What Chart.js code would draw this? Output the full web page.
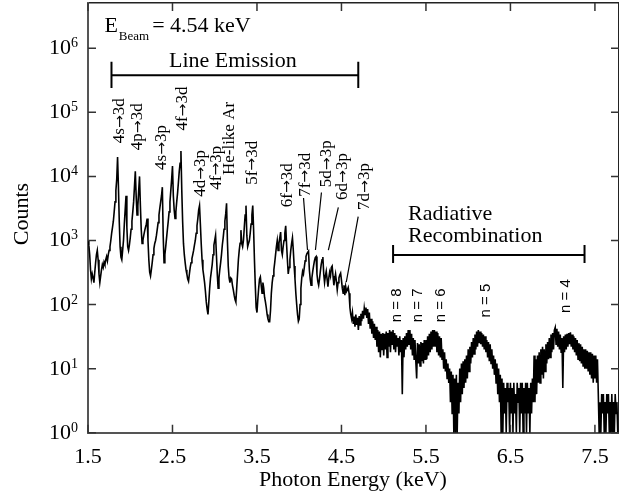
<!DOCTYPE html>
<html>
<head>
<meta charset="utf-8">
<script src="https://cdn.jsdelivr.net/npm/chart.js@4"></script>
<style>
html, body { margin: 0; padding: 0; background: #fff; }
#wrap { width: 619px; height: 500px; }
</style>
</head>
<body>
<div id="wrap"><canvas id="spectrum" width="619" height="500"></canvas></div>
<script>
// channels: 1.50 keV upward, 0.01 keV per channel
const energyStart = 1.5;
const energyStep = 0.01;

// line emission part, 1.50 - 4.59 keV (one row = 0.1 keV)
const countsLine = [
  1000, 850, 600, 350, 250, 300, 260, 220, 320, 450,
  600, 700, 500, 300, 220, 280, 350, 420, 380, 460,
  420, 500, 560, 480, 600, 700, 800, 1000, 1300, 1600,
  2000, 2800, 4000, 6000, 9000, 20000, 7000, 2000, 800, 550,
  500, 700, 1000, 1800, 3000, 5000, 1600, 800, 700, 850,
  1100, 1500, 2000, 2800, 4000, 7000, 12000, 5000, 2500, 3500,
  6000, 10000, 3500, 1500, 900, 1000, 1200, 1400, 1600, 1800,
  2200, 1000, 500, 320, 280, 350, 450, 600, 750, 900,
  1000, 1200, 1500, 1900, 2500, 3200, 4000, 5000, 6800, 1200,
  450, 600, 800, 1100, 1500, 2000, 2800, 4000, 6000, 9000,
  14500, 5000, 3000, 2200, 2800, 4000, 5500, 8000, 12000, 16000,
  25000, 6000, 2000, 900, 600, 450, 350, 300, 250, 230,
  300, 380, 450, 520, 600, 700, 850, 1000, 1300, 1700,
  2200, 3000, 3500, 1800, 900, 500, 350, 280, 220, 160,
  110, 85, 70, 110, 180, 260, 330, 420, 600, 850,
  1000, 1200, 600, 300, 180, 260, 350, 450, 600, 850,
  1100, 1500, 2000, 2600, 3800, 1000, 400, 260, 220, 260,
  250, 200, 170, 140, 120, 110, 180, 300, 500, 700,
  900, 1450, 900, 800, 1000, 1600, 2500, 3500, 1200, 800,
  900, 1000, 1300, 1800, 2500, 3500, 1500, 500, 200, 90,
  75, 120, 180, 250, 270, 200, 150, 220, 180, 130,
  110, 90, 70, 60, 54, 54, 80, 150, 220, 280,
  350, 450, 600, 800, 1000, 700, 900, 1100, 1350, 700,
  600, 800, 1000, 1300, 1700, 900, 500, 300, 380, 500,
  700, 900, 1100, 700, 400, 250, 150, 100, 70, 55,
  60, 100, 180, 260, 330, 300, 380, 480, 560, 620,
  650, 680, 350, 250, 200, 260, 330, 400, 480, 540,
  560, 300, 230, 200, 250, 330, 420, 500, 550, 300,
  220, 280, 330, 250, 190, 260, 320, 280, 380, 400,
  280, 200, 250, 300, 230, 170, 220, 260, 290, 310,
  240, 180, 150, 200, 140, 190, 160, 170, 185, 150
];

// radiative recombination part, 4.60 - 7.77 keV
const countsRR = [
  90, 70, 60, 75, 50, 65, 45, 70, 48, 62,
  40, 66, 48, 72, 55, 80, 60, 88, 70, 90,
  62, 85, 50, 75, 42, 60, 35, 55, 30, 50,
  28, 45, 22, 40, 18, 38, 15, 35, 20, 36,
  16, 35, 20, 38, 15, 36, 22, 40, 18, 38,
  24, 40, 20, 36, 18, 33, 22, 30, 16, 32,
  18, 28, 4, 30, 15, 32, 20, 36, 22, 40,
  24, 40, 20, 35, 16, 30, 14, 28, 13, 7,
  25, 12, 24, 11, 26, 13, 25, 12, 28, 14,
  28, 14, 32, 16, 35, 18, 38, 20, 40, 22,
  40, 22, 38, 18, 36, 16, 32, 15, 30, 14,
  20, 10, 18, 9, 14, 7, 12, 6, 10, 3,
  9, 2, 8, 1, 7, 1, 8, 1, 6, 2,
  10, 3, 12, 4, 13, 5, 14, 6, 16, 7,
  20, 9, 22, 12, 26, 15, 30, 17, 34, 20,
  38, 22, 40, 25, 38, 24, 36, 22, 34, 20,
  32, 18, 28, 15, 26, 13, 24, 12, 20, 10,
  16, 8, 14, 6, 12, 4, 10, 3, 8, 1,
  7, 1, 6, 2, 5, 1, 6, 3, 5, 1,
  6, 2, 5, 1, 6, 2, 4, 1, 6, 3,
  5, 1, 6, 2, 6, 1, 5, 2, 6, 1,
  6, 2, 5, 1, 6, 2, 7, 3, 16, 3,
  14, 4, 16, 6, 18, 6, 20, 8, 22, 7,
  20, 9, 24, 12, 26, 14, 30, 15, 34, 18,
  36, 20, 40, 44, 24, 42, 22, 38, 20, 34,
  18, 30, 5, 32, 18, 34, 20, 35, 22, 36,
  24, 37, 22, 34, 20, 32, 18, 30, 16, 28,
  14, 25, 13, 24, 12, 22, 11, 20, 10, 20,
  10, 19, 9, 18, 8, 18, 7, 17, 6, 16,
  7, 16, 6, 14, 4, 1, 3, 1, 4, 2,
  4, 1, 3, 1, 4, 2, 4, 1, 3, 1,
  4, 1, 3, 1, 4, 2, 3, 1
];

const xTicks = [1.5, 2.5, 3.5, 4.5, 5.5, 6.5, 7.5];
const yTicks = [1, 10, 100, 1000, 10000, 100000, 1000000];

// line labels: energy and counts where the rotated text starts
const lineNames = ['4s\u21923d', '4p\u21923d', '4s\u21923p', '4f\u21923d', '4d\u21923p', '4f\u21923p',
  'He-like Ar', '5f\u21923d', '6f\u21923d', '7f\u21923d', '5d\u21923p', '6d\u21923p', '7d\u21923p'];
const lineLabelE = [1.859, 2.071, 2.354, 2.602, 2.814, 3.003, 3.155, 3.426, 3.839, 4.051, 4.31, 4.499, 4.758];
const lineLabelC = [33000, 25700, 12600, 52000, 4800, 6200, 10500, 7400, 3300, 4800, 6800, 4300, 3000];

// leader lines for the crowded labels
const leaderE0 = [4.051, 4.263, 4.463, 4.698];
const leaderC0 = [4600, 5600, 3300, 2350];
const leaderE1 = [4.098, 4.192, 4.345, 4.557];
const leaderC1 = [710, 710, 710, 224];

const rrNames = ['n = 8', 'n = 7', 'n = 6', 'n = 5', 'n = 4'];
const rrLabelE = [5.135, 5.383, 5.666, 6.196, 7.138];
const rrLabelC = [53, 53, 53, 63, 74];

const serif = '"Liberation Serif", "Times New Roman", serif';
const sans = '"Liberation Sans", Arial, sans-serif';

const counts = countsLine.concat(countsRR);
const points = counts.map((c, i) => ({ x: +(energyStart + i * energyStep).toFixed(2), y: c }));

function bracket(ctx, x0, x1, y, yc0, yc1) {
  ctx.beginPath();
  ctx.moveTo(x0, y); ctx.lineTo(x1, y);
  ctx.moveTo(x0, yc0); ctx.lineTo(x0, yc1);
  ctx.moveTo(x1, yc0); ctx.lineTo(x1, yc1);
  ctx.stroke();
}

// label text, the arrow taken from DejaVu Sans (long shaft, no gaps)
function arrowText(ctx, t, size) {
  const parts = t.split('\u2192');
  ctx.font = size + 'px ' + serif;
  ctx.fillText(parts[0], 0, 0);
  if (parts.length < 2) return;
  let x = ctx.measureText(parts[0]).width;
  ctx.font = size + 'px "DejaVu Sans"';
  const aw = ctx.measureText('\u2192').width;
  ctx.save();
  ctx.translate(x, -0.5);
  ctx.scale(0.9, 0.8);
  ctx.fillText('\u2192', 0, 0);
  ctx.restore();
  x += aw * 0.9;
  ctx.font = size + 'px ' + serif;
  ctx.fillText(parts[1], x, 0);
}

const annotate = {
  id: 'annotate',
  afterDraw(chart) {
    const ctx = chart.ctx;
    const a = chart.chartArea;
    const px = v => chart.scales.x.getPixelForValue(v);
    const py = v => chart.scales.y.getPixelForValue(v);
    ctx.save();

    // inward ticks on all four sides
    ctx.strokeStyle = '#333';
    ctx.lineWidth = 1.5;
    ctx.beginPath();
    xTicks.forEach(v => {
      const x = px(v);
      ctx.moveTo(x, a.bottom); ctx.lineTo(x, a.bottom - 8);
      ctx.moveTo(x, a.top); ctx.lineTo(x, a.top + 8);
    });
    yTicks.forEach(v => {
      const y = py(v);
      ctx.moveTo(a.left, y); ctx.lineTo(a.left + 8, y);
      ctx.moveTo(a.right, y); ctx.lineTo(a.right - 8, y);
    });
    ctx.stroke();

    ctx.fillStyle = '#000';
    ctx.textBaseline = 'alphabetic';

    // x tick labels
    ctx.font = '22px ' + serif;
    ctx.textAlign = 'center';
    xTicks.forEach(v => ctx.fillText(v.toFixed(1), px(v), 463));

    // y tick labels 10^n
    ctx.textAlign = 'right';
    yTicks.forEach(v => {
      const y = py(v);
      const exp = String(Math.round(Math.log10(v)));
      ctx.font = '14px ' + serif;
      const w = ctx.measureText(exp).width;
      ctx.fillText(exp, 78, y - 1);
      ctx.font = '22px ' + serif;
      ctx.fillText('10', 78 - w, y + 6);
    });

    // axis titles
    ctx.textAlign = 'center';
    ctx.fillText('Photon Energy (keV)', 353, 486);
    ctx.save();
    ctx.translate(28, 214);
    ctx.rotate(-Math.PI / 2);
    ctx.fillText('Counts', 0, 0);
    ctx.restore();

    // beam energy
    ctx.textAlign = 'left';
    let bx = px(1.694);
    const by = py(1.8e6);
    ctx.fillText('E', bx, by);
    bx += ctx.measureText('E').width + 1;
    ctx.font = '13px ' + serif;
    ctx.fillText('Beam', bx, by + 8);
    bx += ctx.measureText('Beam').width + 3;
    ctx.font = '22px ' + serif;
    ctx.fillText('= 4.54 keV', bx, by);

    // region brackets
    ctx.strokeStyle = '#000';
    ctx.lineWidth = 2;
    bracket(ctx, px(1.778), px(4.699), py(380000), py(615000), py(240000));
    bracket(ctx, px(5.111), px(7.377), py(594), py(850), py(447));
    ctx.textAlign = 'center';
    ctx.fillText('Line Emission', px(3.214), py(510000));
    ctx.textAlign = 'left';
    ctx.fillText('Radiative', px(5.288), py(2090));
    ctx.fillText('Recombination', px(5.288), py(940));

    // line labels, rotated
    lineNames.forEach((t, i) => {
      ctx.save();
      ctx.translate(px(lineLabelE[i]) + 6, py(lineLabelC[i]));
      ctx.rotate(-Math.PI / 2);
      arrowText(ctx, t, 17);
      ctx.restore();
    });
    ctx.lineWidth = 1.2;
    ctx.beginPath();
    leaderE0.forEach((e, i) => {
      ctx.moveTo(px(e), py(leaderC0[i]));
      ctx.lineTo(px(leaderE1[i]), py(leaderC1[i]));
    });
    ctx.stroke();

    // recombination labels
    ctx.font = '15px ' + sans;
    rrNames.forEach((t, i) => {
      ctx.save();
      ctx.translate(px(rrLabelE[i]) + 5.5, py(rrLabelC[i]));
      ctx.rotate(-Math.PI / 2);
      ctx.fillText(t, 0, 0);
      ctx.restore();
    });

    ctx.restore();
  }
};

const xMin = 1.5, xMax = 7.785;
const yMin = 1, yMax = 5.09e6;

function frameAxis(type, position, min, max, showBorder, color, width) {
  return {
    type: type,
    position: position,
    min: min,
    max: max,
    ticks: { display: false },
    grid: { display: false, drawTicks: false },
    border: { display: showBorder, color: color, width: width },
    title: { display: false }
  };
}

const spectrumChart = new Chart(document.getElementById('spectrum'), {
  type: 'line',
  data: {
    datasets: [{
      label: 'Counts',
      data: points,
      borderColor: '#000',
      borderWidth: 1.6,
      pointRadius: 0,
      tension: 0,
      fill: false
    }]
  },
  options: {
    responsive: false,
    animation: false,
    devicePixelRatio: 1,
    events: [],
    layout: { padding: { left: 88, right: -2.4, top: 3, bottom: 67.3 } },
    plugins: { legend: { display: false }, tooltip: { enabled: false } },
    scales: {
      x: frameAxis('linear', 'bottom', xMin, xMax, true, '#555', 2),
      xTop: frameAxis('linear', 'top', xMin, xMax, true, '#222', 1.5),
      y: frameAxis('logarithmic', 'left', yMin, yMax, true, '#555', 2),
      yRight: frameAxis('logarithmic', 'right', yMin, yMax, true, '#222', 1.5)
    }
  },
  plugins: [annotate]
});
</script>
</body>
</html>
